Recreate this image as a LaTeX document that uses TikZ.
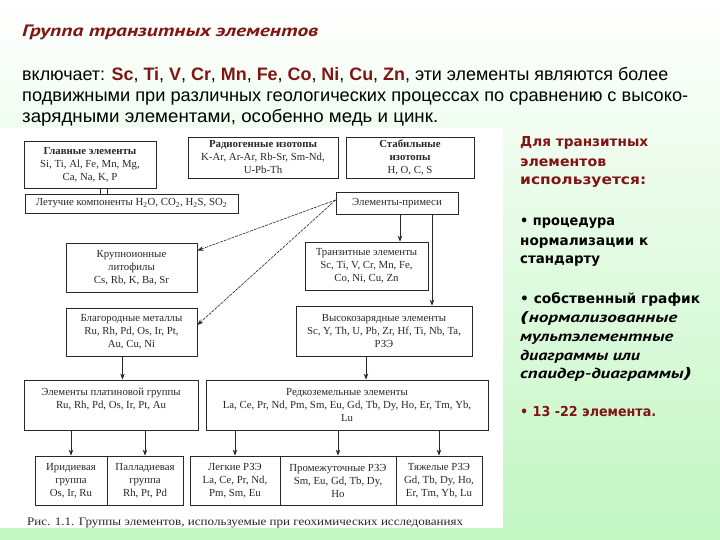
\documentclass[tikz,border=0pt]{standalone}
\usepackage{fontspec}
\setmainfont{Liberation Serif}
\newfontfamily\parafont{Liberation Sans}
\newfontfamily\curfont{PT Sans}
\newfontfamily\sidefont{DejaVu Sans}
\usetikzlibrary{arrows.meta}
\definecolor{dred}{RGB}{130,20,20}
\definecolor{bggreen}{RGB}{194,246,194}
\definecolor{bgmid}{RGB}{232,250,232}
\definecolor{scan}{RGB}{40,40,40}
\newcommand{\fitw}[2]{\resizebox{#1}{\height}{#2}}
\newcommand{\el}[1]{\textcolor{dred}{\bfseries #1}}
\tikzset{
  box/.style={draw=scan, line width=0.8pt, align=center, inner sep=0pt, text=scan,
    font=\fontsize{10.8}{13}\selectfont},
  arr/.style={draw=scan, line width=0.8pt, -{Stealth[length=6pt,width=4.5pt]}},
  darr/.style={draw=scan, line width=0.6pt, dash pattern=on 3pt off 1pt, -{Stealth[length=6pt,width=4.5pt]}},
  para/.style={anchor=base west, inner sep=0pt, text=black, font=\parafont\fontsize{18}{20}\selectfont},
  side/.style={anchor=base west, inner sep=0pt, text=black, font=\sidefont\bfseries\fontsize{13.7}{16}\selectfont},
  sidei/.style={anchor=base west, inner sep=0pt, text=black, font=\curfont\bfseries\itshape\fontsize{14.5}{16}\selectfont},
}
\begin{document}
\begin{tikzpicture}[x=1pt,y=-1pt]
\useasboundingbox (0,0) rectangle (720,540);
\shade[top color=white, middle color=bgmid, bottom color=bggreen] (0,0) rectangle (720,540);
\fill[white] (0,128) rectangle (503,528);

% heading and paragraph
\node[anchor=base west, inner sep=0pt, text=dred, font=\curfont\bfseries\itshape\fontsize{16.5}{18}\selectfont] (title) at (22,37) {\fitw{296pt}{Группа транзитных элементов}};
\node[para] (p1) at (22,81) {\fitw{646pt}{включает: \el{Sc}, \el{Ti}, \el{V}, \el{Cr}, \el{Mn}, \el{Fe}, \el{Co}, \el{Ni}, \el{Cu}, \el{Zn}, эти элементы являются более}};
\node[para] (p2) at (22,102) {\fitw{666pt}{подвижными при различных геологических процессах по сравнению с высоко-}};
\node[para] (p3) at (22,123) {\fitw{416pt}{зарядными элементами, особенно медь и цинк.}};

% right column
\node[side, text=dred] (r1) at (520,147) {\fitw{128pt}{Для транзитных}};
\node[side, text=dred] (r2) at (520,167) {\fitw{86pt}{элементов}};
\node[side, text=dred] (r3) at (520,185) {\fitw{126pt}{используется:}};
\node[side] (r4) at (520,225) {\fitw{95pt}{• процедура}};
\node[side] (r5) at (520,245) {\fitw{128pt}{нормализации к}};
\node[side] (r6) at (520,263) {\fitw{80pt}{стандарту}};
\node[side] (r7) at (520,303) {\fitw{180pt}{• собственный график}};
\node[sidei] (r8) at (520,322) {\fitw{157pt}{{\sidefont (}нормализованные}};
\node[sidei] (r9) at (520,341) {\fitw{153pt}{мультэлементные}};
\node[sidei] (r10) at (520,360) {\fitw{120pt}{диаграммы или}};
\node[sidei] (r11) at (520,378) {\fitw{172pt}{спаидер-диаграммы{\sidefont )}}};
\node[side, text=dred] (r12) at (520,416) {\fitw{136pt}{• 13 -22 элемента.}};

% scanned figure
\node[box, minimum width=132pt, minimum height=47pt] (main) at (90,164.5)
  {\textbf{Главные элементы}\\Si, Ti, Al, Fe, Mn, Mg,\\Ca, Na, K, P};
\node[box, minimum width=150pt, minimum height=41pt] (radio) at (263,157.5)
  {\textbf{Радиогенные изотопы}\\K-Ar, Ar-Ar, Rb-Sr, Sm-Nd,\\U-Pb-Th};
\node[box, minimum width=128pt, minimum height=41pt] (stab) at (410,157.5)
  {\textbf{Стабильные}\\\textbf{изотопы}\\H, O, C, S};
\node[box, minimum width=213pt, minimum height=19pt] (volat) at (131.5,203.5)
  {Летучие компоненты H\textsubscript{2}O, CO\textsubscript{2}, H\textsubscript{2}S, SO\textsubscript{2}};
\node[box, minimum width=122pt, minimum height=22pt] (prim) at (397,203)
  {Элементы-примеси};
\node[box, minimum width=131pt, minimum height=49pt] (krup) at (131.5,267.5)
  {Крупноионные\\литофилы\\Cs, Rb, K, Ba, Sr};
\node[box, minimum width=123pt, minimum height=48pt] (trans) at (366.5,266)
  {Транзитные элементы\\Sc, Ti, V, Cr, Mn, Fe,\\Co, Ni, Cu, Zn};
\node[box, minimum width=131pt, minimum height=48pt] (blag) at (131.5,332)
  {Благородные металлы\\Ru, Rh, Pd, Os, Ir, Pt,\\Au, Cu, Ni};
\node[box, minimum width=176pt, minimum height=50pt] (vys) at (384,331)
  {Высокозарядные элементы\\Sc, Y, Th, U, Pb, Zr, Hf, Ti, Nb, Ta,\\РЗЭ};
\node[box, minimum width=174pt, minimum height=50pt] (plat) at (111,405)
  {Элементы платиновой группы\\Ru, Rh, Pd, Os, Ir, Pt, Au\\\mbox{}};
\node[box, minimum width=282pt, minimum height=50pt] (rare) at (347,405)
  {Редкоземельные элементы\\La, Ce, Pr, Nd, Pm, Sm, Eu, Gd, Tb, Dy, Ho, Er, Tm, Yb,\\Lu};
\node[box, minimum width=72pt, minimum height=49pt] (irid) at (71,480.5)
  {Иридиевая\\группа\\Os, Ir, Ru};
\node[box, minimum width=76pt, minimum height=49pt] (pall) at (145,480.5)
  {Палладиевая\\группа\\Rh, Pt, Pd};
\node[box, minimum width=90pt, minimum height=49pt] (light) at (235,480.5)
  {Легкие РЗЭ\\La, Ce, Pr, Nd,\\Pm, Sm, Eu};
\node[box, minimum width=116pt, minimum height=49pt] (inter) at (338,480.5)
  {Промежуточные РЗЭ\\Sm, Eu, Gd, Tb, Dy,\\Ho};
\node[box, minimum width=86pt, minimum height=49pt] (heavy) at (439,480.5)
  {Тяжелые РЗЭ\\Gd, Tb, Dy, Ho,\\Er, Tm, Yb, Lu};
\node[anchor=base west, inner sep=0pt, text=scan, font=\fontsize{11.5}{13}\selectfont] (cap) at (27,525)
  {\fitw{436pt}{Рис. 1.1. Группы элементов, используемые при геохимических исследованиях}};

% connectors
\draw[draw=scan, line width=0.8pt] ([xshift=10pt]main.south) -- ([xshift=10pt]main.south |- volat.north);
\draw[draw=scan, line width=0.8pt] ([xshift=17pt]main.south) -- ([xshift=17pt]main.south |- volat.north);
\draw[darr] ([yshift=3pt]prim.west) -- ([yshift=17pt]krup.east);
\draw[darr] ([yshift=3pt]prim.west) -- ([yshift=7pt]blag.east);
\draw[arr] ([xshift=3pt]prim.south) -- ([xshift=3pt]prim.south |- trans.north);
\draw[arr] ([xshift=35pt]prim.south) -- ([xshift=35pt]prim.south |- vys.north);
\draw[arr] ([xshift=-9pt]blag.south) -- ([xshift=-9pt]blag.south |- plat.north);
\draw[arr] ([xshift=-18pt]vys.south) -- ([xshift=-18pt]vys.south |- rare.north);
\draw[arr] (plat.south -| irid.north) -- (irid.north);
\draw[arr] (plat.south -| pall.north) -- (pall.north);
\draw[arr] (rare.south -| light.north) -- (light.north);
\draw[arr] (rare.south -| inter.north) -- (inter.north);
\draw[arr] (rare.south -| heavy.north) -- (heavy.north);
\end{tikzpicture}
\end{document}
